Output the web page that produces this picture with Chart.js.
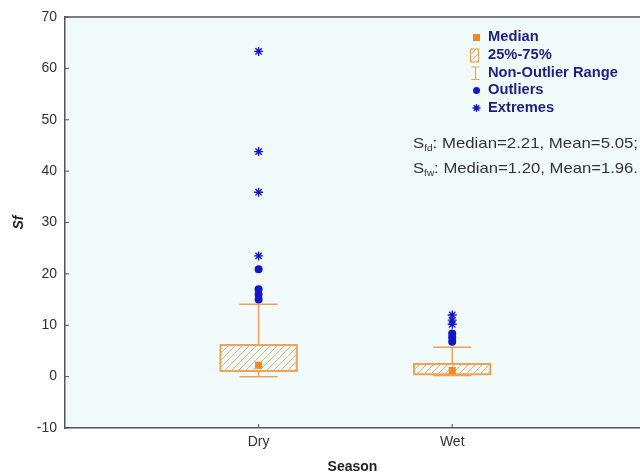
<!DOCTYPE html>
<html>
<head>
<meta charset="utf-8">
<script src="https://cdn.jsdelivr.net/npm/chart.js@4.4.1/dist/chart.umd.min.js"></script>
<style>
  html, body { margin: 0; padding: 0; background: #fff; overflow: hidden; }
</style>
</head>
<body>
<canvas id="boxChart" width="640" height="476"></canvas>
<script>
// values
const seasons = ['Dry', 'Wet'];
const q1 = [0.95, 0.3];
const q3 = [6.3, 2.6];
const medians = [2.21, 1.20];
const means = [5.05, 1.96];
const whiskerLow = [0.0, 0.2];
const whiskerHigh = [14.1, 5.7];
const outliersDry = [15.0, 16.0, 17.0, 20.9];
const outliersWet = [6.8, 7.6, 8.4];
const extremesDry = [23.5, 35.9, 43.8, 63.3];
const extremesWet = [10.2, 11.0, 12.0];
const yTicks = [-10, 0, 10, 20, 30, 40, 50, 60, 70];
const legendLabels = ['Median', '25%-75%', 'Non-Outlier Range', 'Outliers', 'Extremes'];
const statSubs = ['fd', 'fw'];

const FONT = "'Liberation Sans', Arial, sans-serif";
const ORANGE = '#f0a255';
const MED_ORANGE = '#f7861c';
const BLUE = '#1414c8';
const NAVY = '#1c1c86';

// 사선 패턴 (박스 채우기)
function makeHatch() {
  const c = document.createElement('canvas');
  c.width = 7; c.height = 7;
  const g = c.getContext('2d');
  g.strokeStyle = '#f2b277';
  g.lineWidth = 1;
  g.beginPath();
  g.moveTo(0, 7); g.lineTo(7, 0);
  g.moveTo(-1, 1); g.lineTo(1, -1);
  g.moveTo(6, 8); g.lineTo(8, 6);
  g.stroke();
  return g.createPattern(c, 'repeat');
}
const hatch = makeHatch();

const pos = seasons.map((s, i) => i + 1);
const pts = (x, arr) => arr.map(v => ({x: x, y: v}));

const decor = {
  id: 'decor',
  beforeDraw(chart) {
    const {ctx, chartArea: a} = chart;
    ctx.save();
    ctx.fillStyle = '#f2fbfc';
    ctx.fillRect(a.left, a.top, a.right - a.left, a.bottom - a.top);
    ctx.restore();
  },
  // 수염 (non-outlier range)
  beforeDatasetsDraw(chart) {
    const {ctx, scales: {x, y}} = chart;
    ctx.save();
    ctx.strokeStyle = ORANGE;
    ctx.lineWidth = 1.5;
    pos.forEach((p, i) => {
      const px = x.getPixelForValue(p);
      const hi = y.getPixelForValue(whiskerHigh[i]);
      const lo = y.getPixelForValue(whiskerLow[i]);
      ctx.beginPath();
      ctx.moveTo(px, y.getPixelForValue(q3[i])); ctx.lineTo(px, hi);
      ctx.moveTo(px - 19, hi); ctx.lineTo(px + 19, hi);
      ctx.moveTo(px, y.getPixelForValue(q1[i])); ctx.lineTo(px, lo);
      ctx.moveTo(px - 19, lo); ctx.lineTo(px + 19, lo);
      ctx.stroke();
    });
    ctx.restore();
  },
  afterDraw(chart) {
    const {ctx, chartArea: a, scales: {x, y}} = chart;
    const h = Chart.helpers;
    ctx.save();
    // 위쪽 테두리 + 안쪽 눈금
    ctx.strokeStyle = '#555';
    ctx.lineWidth = 1.5;
    ctx.beginPath();
    ctx.moveTo(a.left, a.top); ctx.lineTo(a.right, a.top);
    ctx.stroke();
    ctx.lineWidth = 1;
    ctx.beginPath();
    yTicks.forEach(v => {
      const py = y.getPixelForValue(v);
      ctx.moveTo(a.left, py); ctx.lineTo(a.left + 4, py);
    });
    pos.forEach(p => {
      const px = x.getPixelForValue(p);
      ctx.moveTo(px, a.bottom); ctx.lineTo(px, a.bottom - 4);
    });
    ctx.stroke();

    // 범례
    const lx = 476.5, tx = 488;
    const rows = [37.5, 55, 73, 90.5, 108];
    ctx.fillStyle = MED_ORANGE;
    h.drawPoint(ctx, {pointStyle: 'rect', radius: 5, borderWidth: 0}, lx, rows[0]);
    ctx.fillStyle = hatch;
    ctx.fillRect(470.5, 49, 8, 13);
    ctx.strokeStyle = ORANGE;
    ctx.lineWidth = 1.2;
    ctx.strokeRect(470.5, 49, 8, 13);
    ctx.beginPath();
    ctx.moveTo(471.5, 67); ctx.lineTo(479.5, 67);
    ctx.moveTo(475.5, 67); ctx.lineTo(475.5, 79.5);
    ctx.moveTo(471.5, 79.5); ctx.lineTo(479.5, 79.5);
    ctx.stroke();
    ctx.fillStyle = BLUE;
    ctx.strokeStyle = BLUE;
    h.drawPoint(ctx, {pointStyle: 'circle', radius: 3.5, borderWidth: 0}, lx, rows[3]);
    ctx.lineWidth = 1.3;
    h.drawPoint(ctx, {pointStyle: 'star', radius: 4, borderWidth: 1.3}, lx, rows[4]);
    ctx.fillStyle = NAVY;
    ctx.font = 'bold 14px ' + FONT;
    ctx.textBaseline = 'middle';
    ctx.textAlign = 'left';
    legendLabels.forEach((t, i) => {
      ctx.save();
      ctx.translate(tx, rows[i]);
      ctx.scale(1.05, 1);
      ctx.fillText(t, 0, 0);
      ctx.restore();
    });

    // 통계 텍스트 (S_fd / S_fw), 줄 전체를 가로로 늘려 폭을 맞춤
    ctx.fillStyle = '#333';
    ctx.textBaseline = 'alphabetic';
    statSubs.forEach((sub, i) => {
      const by = 148 + i * 25;
      const rest = ': Median=' + medians[i].toFixed(2) + ', Mean=' + means[i].toFixed(2) + (i === 0 ? ';' : '.');
      ctx.font = '15px ' + FONT;
      const wS = ctx.measureText('S').width;
      const wRest = ctx.measureText(rest).width;
      ctx.font = '9px ' + FONT;
      const wSub = ctx.measureText(sub).width;
      const sx = (638 - 413) / (wS + wSub + wRest);
      ctx.save();
      ctx.translate(413, by);
      ctx.scale(sx, 1);
      ctx.font = '15px ' + FONT;
      ctx.fillText('S', 0, 0);
      ctx.font = '9px ' + FONT;
      ctx.fillText(sub, wS, 3);
      ctx.font = '15px ' + FONT;
      ctx.fillText(rest, wS + wSub, 0);
      ctx.restore();
    });
    ctx.restore();
  }
};

const axisFont = {family: FONT, size: 14};

new Chart(document.getElementById('boxChart'), {
  type: 'bar',
  data: {
    datasets: [
      {
        type: 'bar',
        order: 4,
        data: pos.map((p, i) => ({x: p, y: [q1[i], q3[i]]})),
        backgroundColor: hatch,
        borderColor: ORANGE,
        borderWidth: 1.5,
        borderSkipped: false,
        barThickness: 78
      },
      {
        type: 'scatter',
        order: 1,
        data: pos.map((p, i) => ({x: p, y: medians[i]})),
        pointStyle: 'rect',
        pointRadius: 5,
        backgroundColor: MED_ORANGE,
        borderWidth: 0
      },
      {
        type: 'scatter',
        order: 2,
        data: pts(1, outliersDry).concat(pts(2, outliersWet)),
        pointStyle: 'circle',
        pointRadius: 4,
        backgroundColor: BLUE,
        borderWidth: 0
      },
      {
        type: 'scatter',
        order: 3,
        data: pts(1, extremesDry).concat(pts(2, extremesWet)),
        pointStyle: 'star',
        pointRadius: 4.5,
        borderColor: BLUE,
        borderWidth: 1.4
      }
    ]
  },
  options: {
    responsive: false,
    animation: false,
    layout: {autoPadding: false, padding: {top: 17, right: 0, left: 0, bottom: 0}},
    plugins: {
      legend: {display: false},
      tooltip: {enabled: false}
    },
    scales: {
      x: {
        type: 'linear',
        min: 0,
        max: 2.97,
        offset: false,
        grid: {display: true, drawOnChartArea: false, drawTicks: false},
        border: {color: '#555', width: 1.5},
        afterBuildTicks: s => { s.ticks = pos.map(p => ({value: p})); },
        afterFit: s => { s.height = 48; s.paddingLeft = 0; s.paddingRight = 0; },
        ticks: {
          callback: v => seasons[v - 1],
          color: '#333',
          font: axisFont,
          padding: 6,
          maxRotation: 0,
          autoSkip: false
        },
        title: {
          display: true,
          text: 'Season',
          color: '#222',
          font: {family: FONT, size: 14, weight: 'bold'},
          padding: {top: 2, bottom: 0}
        }
      },
      y: {
        min: -10,
        max: 70,
        grid: {display: true, drawOnChartArea: false, drawTicks: false},
        border: {color: '#555', width: 1.5},
        afterBuildTicks: s => { s.ticks = yTicks.map(v => ({value: v})); },
        afterFit: s => { s.width = 65; s.paddingTop = 0; s.paddingBottom = 0; },
        ticks: {color: '#333', font: axisFont, padding: 8},
        title: {
          display: true,
          text: 'Sf',
          color: '#222',
          font: {family: FONT, size: 14, weight: 'bold', style: 'italic'},
          padding: {top: 11, bottom: 4}
        }
      }
    }
  },
  plugins: [decor]
});
</script>
</body>
</html>
